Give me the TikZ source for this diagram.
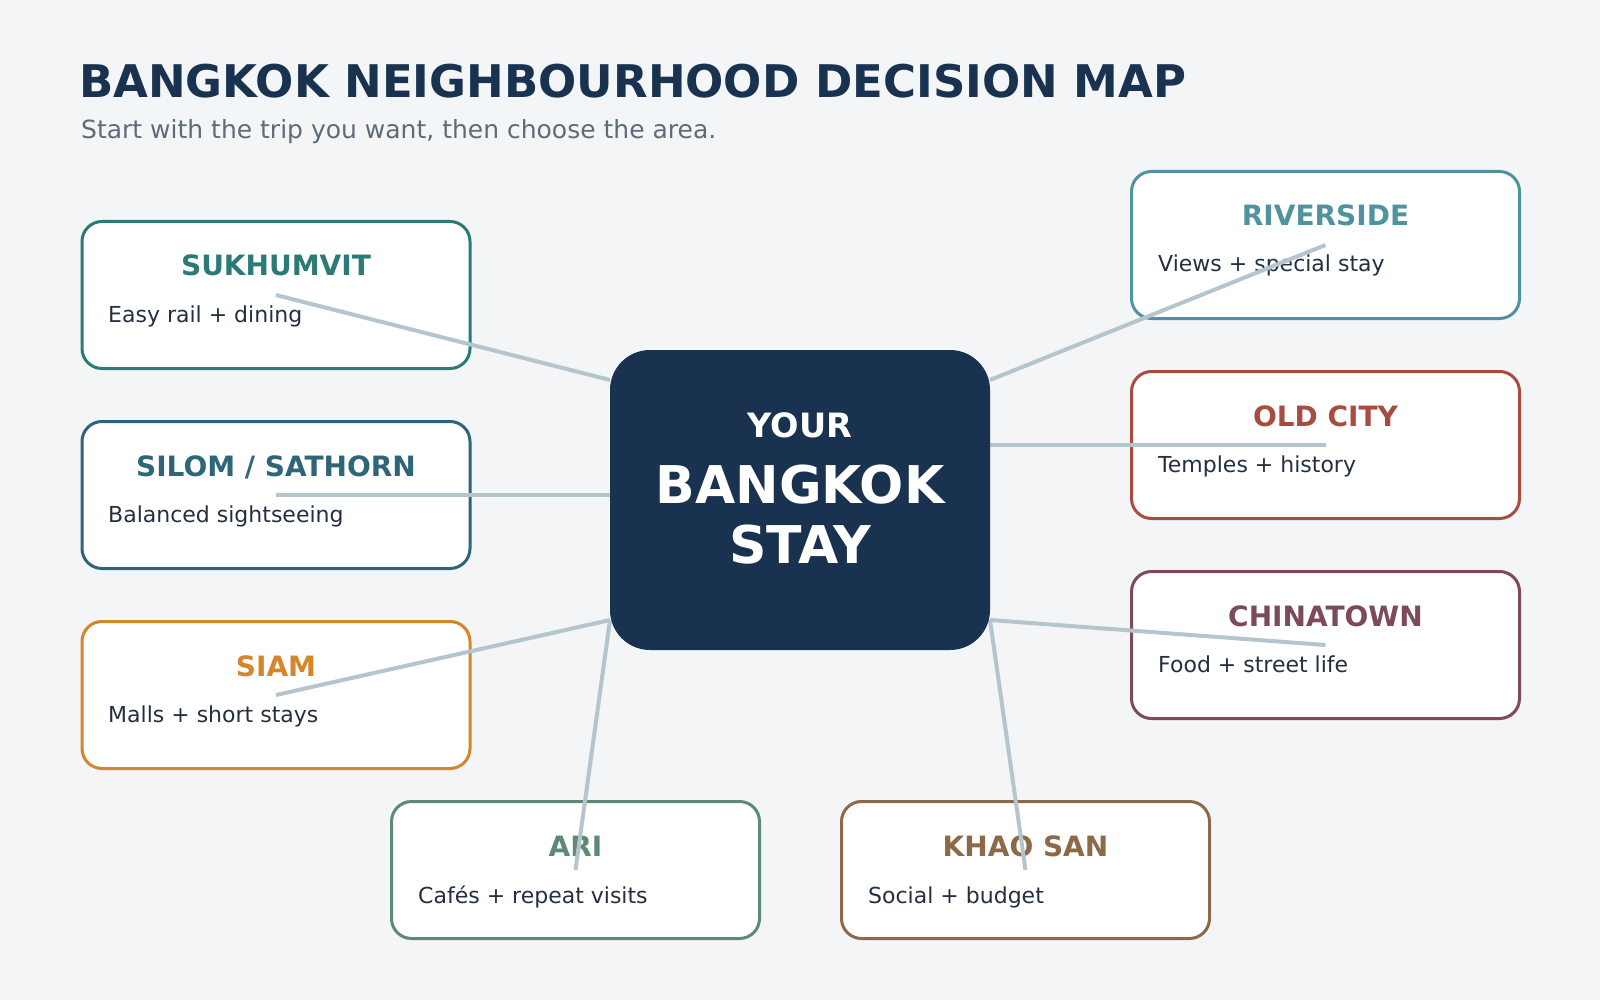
\documentclass[tikz,border=0pt]{standalone}
\usepackage{fontspec}
\setmainfont{DejaVu Sans}
\definecolor{bg}{HTML}{F3F5F7}
\definecolor{navy}{HTML}{183250}
\definecolor{subgrey}{HTML}{5E6B78}
\definecolor{desccol}{HTML}{243040}
\definecolor{linkcol}{HTML}{B4C5CD}
\definecolor{csuk}{HTML}{2A7B76}
\definecolor{csil}{HTML}{2F6578}
\definecolor{csiam}{HTML}{D4862A}
\definecolor{criv}{HTML}{5093A0}
\definecolor{cold}{HTML}{A84C40}
\definecolor{cchina}{HTML}{7C4A5C}
\definecolor{cari}{HTML}{5C8A72}
\definecolor{ckhao}{HTML}{8C6A48}
\begin{document}
\begin{tikzpicture}[x=1pt,y=-1pt,
  area/.style={draw=#1, line width=3pt, fill=white, rounded corners=20pt,
    minimum width=388pt, minimum height=147pt, inner sep=0pt},
  smallarea/.style={area=#1, minimum width=368pt, minimum height=137pt},
  lbl/.style={text=#1, anchor=base, inner sep=0pt, font=\fontsize{28}{32}\selectfont\bfseries},
  desc/.style={text=desccol, anchor=base west, inner sep=0pt, font=\fontsize{22}{26}\selectfont},
  link/.style={draw=linkcol, line width=4pt},
  hub/.style={fill=navy, rounded corners=40pt, minimum width=380pt, minimum height=300pt, inner sep=0pt},
  hubtxt/.style={text=white, anchor=base, inner sep=0pt}
]
\fill[bg] (0,0) rectangle (1600,1000);
\useasboundingbox (0,0) rectangle (1600,1000);

% title
\node[anchor=base west, inner sep=0pt, text=navy, font=\fontsize{45}{50}\selectfont\bfseries] (title) at (79,98) {BANGKOK NEIGHBOURHOOD DECISION MAP};
\node[anchor=base west, inner sep=0pt, text=subgrey, font=\fontsize{25}{29}\selectfont] (subtitle) at (81,139) {Start with the trip you want, then choose the area.};

% left boxes
\node[area=csuk] (suk) at (276,295) {};
\node[lbl=csuk] (sukL) at (276,276) {SUKHUMVIT};
\node[desc] (sukD) at (108,322) {Easy rail + dining};

\node[area=csil] (sil) at (276,495) {};
\node[lbl=csil] (silL) at (276,476) {SILOM / SATHORN};
\node[desc] (silD) at (108,522) {Balanced sightseeing};

\node[area=csiam] (siam) at (276,695) {};
\node[lbl=csiam] (siamL) at (276,676) {SIAM};
\node[desc] (siamD) at (108,722) {Malls + short stays};

% right boxes
\node[area=criv] (riv) at (1325.5,245) {};
\node[lbl=criv] (rivL) at (1325.5,226) {RIVERSIDE};
\node[desc] (rivD) at (1158,272) {Views + special stay};

\node[area=cold] (old) at (1325.5,445) {};
\node[lbl=cold] (oldL) at (1325.5,426) {OLD CITY};
\node[desc] (oldD) at (1158,472) {Temples + history};

\node[area=cchina] (china) at (1325.5,645) {};
\node[lbl=cchina] (chinaL) at (1325.5,626) {CHINATOWN};
\node[desc] (chinaD) at (1158,672) {Food + street life};

% bottom boxes
\node[smallarea=cari] (ari) at (575.5,870) {};
\node[lbl=cari] (ariL) at (575.5,856) {ARI};
\node[desc] (ariD) at (418,903) {Cafés + repeat visits};

\node[smallarea=ckhao] (khao) at (1025.5,870) {};
\node[lbl=ckhao] (khaoL) at (1025.5,856) {KHAO SAN};
\node[desc] (khaoD) at (868,903) {Social + budget};

% hub attachment points
\coordinate (hTL) at (610,380);
\coordinate (hML) at (610,495);
\coordinate (hBL) at (610,620);
\coordinate (hTR) at (990,380);
\coordinate (hMR) at (990,445);
\coordinate (hBR) at (990,620);

% connectors
\draw[link] (suk.center) -- (hTL);
\draw[link] (sil.center) -- (hML);
\draw[link] (siam.center) -- (hBL);
\draw[link] (ari.center) -- (hBL);
\draw[link] (riv.center) -- (hTR);
\draw[link] (old.center) -- (hMR);
\draw[link] (china.center) -- (hBR);
\draw[link] (khao.center) -- (hBR);

% hub
\node[hub] (hub) at (800,500) {};
\node[hubtxt, font=\fontsize{33.5}{38}\selectfont\bfseries] (hub1) at (800,437) {YOUR};
\node[hubtxt, font=\fontsize{52}{56}\selectfont\bfseries] (hub2) at (800,503) {BANGKOK};
\node[hubtxt, font=\fontsize{52}{56}\selectfont\bfseries] (hub3) at (800,563) {STAY};
\end{tikzpicture}
\end{document}
